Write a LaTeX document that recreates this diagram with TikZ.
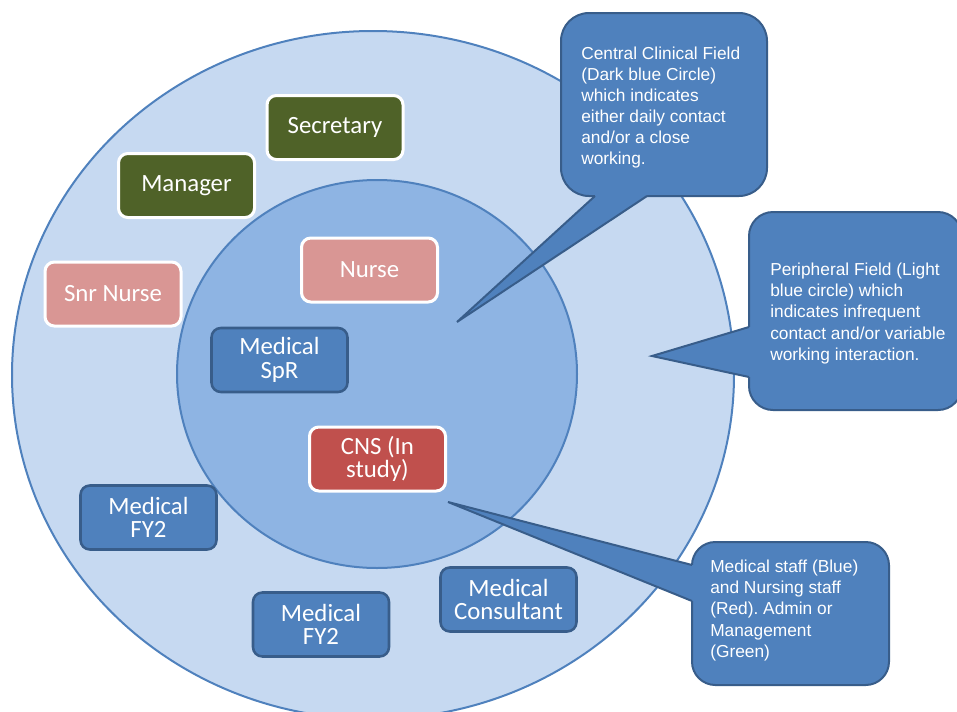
\documentclass[tikz,border=0pt]{standalone}
\usepackage{fontspec}
\setmainfont{Liberation Sans}
\newfontfamily\boxfont{Carlito}
\usepackage{tikz}
\frenchspacing

\begin{document}
\begin{tikzpicture}[x=0.75pt,y=0.75pt,yscale=-1,xscale=1,
  staffbox/.style={rounded corners=7pt, minimum width=102pt, minimum height=48pt, inner sep=0pt, align=center, text=white, font=\boxfont\fontsize{18.6}{17.5}\selectfont},
  medbox/.style={staffbox, draw={rgb, 255:red, 56; green, 93; blue, 138 }, fill={rgb, 255:red, 79; green, 129; blue, 189 }, line width=1.9pt},
  nursebox/.style={staffbox, draw=white, fill={rgb, 255:red, 217; green, 150; blue, 148 }, line width=2.25pt},
  cnsbox/.style={staffbox, draw=white, fill={rgb, 255:red, 192; green, 80; blue, 77 }, line width=2.25pt},
  adminbox/.style={staffbox, draw=white, fill={rgb, 255:red, 79; green, 98; blue, 40 }, line width=2.25pt},
  calloutbody/.style={draw={rgb, 255:red, 56; green, 93; blue, 138 }, fill={rgb, 255:red, 79; green, 129; blue, 189 }, line width=1.5pt, inner sep=0pt},
  pointerfill/.style={fill={rgb, 255:red, 79; green, 129; blue, 189 }},
  pointerline/.style={draw={rgb, 255:red, 56; green, 93; blue, 138 }, line width=1.5pt, line join=miter},
  callouttext/.style={anchor=north west, inner sep=0pt, align=left, text=white, font=\fontsize{13}{15.8}\selectfont}
  ]
  \useasboundingbox (0,0) rectangle (957,711);

  %Shape: Ellipse [peripheral field]
  \draw [draw={rgb, 255:red, 79; green, 129; blue, 189 }, fill={rgb, 255:red, 198; green, 217; blue, 241 }, line width=1.5pt] (373,375) ellipse [x radius=361, y radius=344];
  %Shape: Ellipse [central clinical field]
  \draw [draw={rgb, 255:red, 79; green, 129; blue, 189 }, fill={rgb, 255:red, 142; green, 180; blue, 227 }, line width=1.5pt] (377,374) ellipse [x radius=200, y radius=194];

  % Staff boxes
  \node [adminbox] (secretary) at (335,127.5) {Secretary};
  \node [adminbox] (manager) at (186.5,185.5) {Manager};
  \node [nursebox] (snrnurse) at (113,294) {Snr Nurse};
  \node [nursebox] (nurse) at (369.5,270) {Nurse};
  \node [medbox] (spr) at (279.5,360) {Medical\\SpR};
  \node [cnsbox] (cns) at (377.5,459) {CNS (In\\study)};
  \node [medbox] (fyleft) at (148.5,517.5) {Medical\\FY2};
  \node [medbox] (fybottom) at (321,624.5) {Medical\\FY2};
  \node [medbox] (consultant) at (508.5,599.5) {Medical\\Consultant};

  %Callout [central]
  \coordinate (centraltip) at (457,322);
  \node [calloutbody, rounded corners=21pt, minimum width=154.5pt, minimum height=137.25pt] (central) at (664,104.5) {};
  \fill [pointerfill] (595,196) -- (centraltip) -- (647,196) -- (647,190) -- (595,190) -- cycle;
  \draw [pointerline] (595,196) -- (centraltip) -- (647,196);
  \node [callouttext] (centraltext) at (581,46.5) {Central Clinical Field\\(Dark blue Circle)\\which indicates\\either daily contact\\and/or a close\\working.};

  %Callout [peripheral]
  \coordinate (peripheraltip) at (652,356);
  \node [calloutbody, rounded corners=18pt, minimum width=159.75pt, minimum height=148.5pt] (peripheral) at (855.5,311) {};
  \fill [pointerfill] (749,327) -- (peripheraltip) -- (749,377) -- (755,377) -- (755,327) -- cycle;
  \draw [pointerline] (749,327) -- (peripheraltip) -- (749,377);
  \node [callouttext] (peripheraltext) at (770,263) {Peripheral Field (Light\\blue circle) which\\indicates infrequent\\contact and/or variable\\working interaction.};

  %Callout [legend]
  \coordinate (legendtip) at (448,502);
  \node [calloutbody, rounded corners=17.5pt, minimum width=147.75pt, minimum height=107.25pt] (legend) at (790.5,613.5) {};
  \fill [pointerfill] (692,565) -- (legendtip) -- (692,601) -- (698,601) -- (698,565) -- cycle;
  \draw [pointerline] (692,565) -- (legendtip) -- (692,601);
  \node [callouttext] (legendtext) at (710,560) {Medical staff (Blue)\\and Nursing staff\\(Red). Admin or\\Management\\(Green)};

\end{tikzpicture}
\end{document}
